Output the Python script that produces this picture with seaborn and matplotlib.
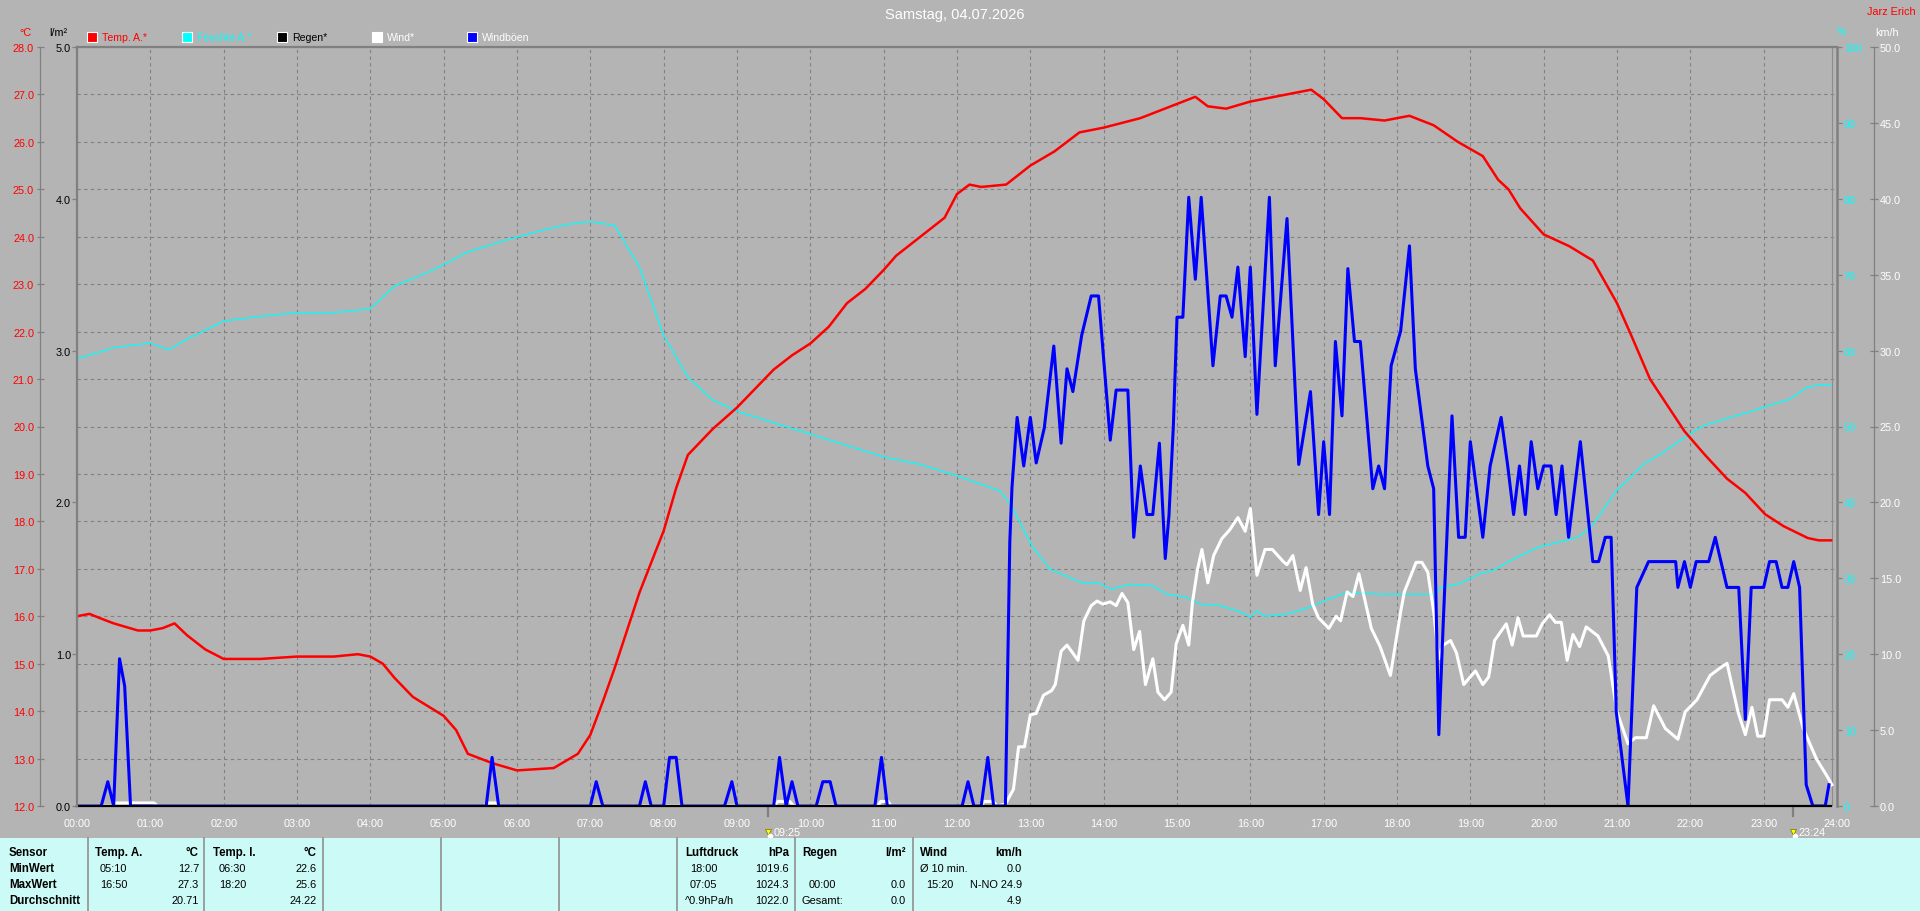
import numpy as np
import matplotlib
matplotlib.use("Agg")
import matplotlib.pyplot as plt
import matplotlib.transforms as mtransforms
from matplotlib.patches import Rectangle
from matplotlib.lines import Line2D
import seaborn as sns

# ---------------- data ----------------
TITLE = "Samstag, 04.07.2026"
STATION = "Jarz Erich"

TEMP_HOURS = [0.00, 0.17, 0.33, 0.50, 0.83, 1.00, 1.17, 1.33, 1.50, 1.75, 2.00, 2.50, 3.00, 3.50,
              3.83, 4.00, 4.17, 4.33, 4.58, 5.00, 5.17, 5.33, 5.67, 6.00, 6.50, 6.83, 7.00, 7.17,
              7.33, 7.67, 8.00, 8.17, 8.33, 8.67, 9.00, 9.25, 9.50, 9.75, 10.00, 10.25, 10.50,
              10.75, 11.00, 11.17, 11.50, 11.83, 12.00, 12.17, 12.33, 12.67, 13.00, 13.33, 13.67,
              14.00, 14.50, 15.00, 15.25, 15.42, 15.67, 16.00, 16.33, 16.83, 17.00, 17.25, 17.50,
              17.83, 18.17, 18.50, 18.83, 19.17, 19.38, 19.52, 19.68, 20.00, 20.35, 20.67, 21.00,
              21.20, 21.45, 21.92, 22.20, 22.50, 22.75, 23.02, 23.27, 23.60, 23.75, 23.92]
TEMP_C = [16.0, 16.05, 15.95, 15.85, 15.7, 15.7, 15.75, 15.85, 15.6, 15.3, 15.1, 15.1, 15.15, 15.15,
          15.2, 15.15, 15.0, 14.7, 14.3, 13.9, 13.6, 13.1, 12.9, 12.75, 12.8, 13.1, 13.5, 14.2,
          14.9, 16.5, 17.8, 18.7, 19.4, 19.95, 20.4, 20.8, 21.2, 21.5, 21.75, 22.1, 22.6,
          22.9, 23.3, 23.6, 24.0, 24.4, 24.9, 25.1, 25.05, 25.1, 25.5, 25.8, 26.2,
          26.3, 26.5, 26.8, 26.95, 26.75, 26.7, 26.85, 26.95, 27.1, 26.9, 26.5, 26.5,
          26.45, 26.55, 26.35, 26.0, 25.7, 25.2, 25.0, 24.6, 24.05, 23.8, 23.5, 22.6,
          21.9, 21.0, 19.9, 19.4, 18.9, 18.6, 18.15, 17.9, 17.65, 17.6, 17.6]

HUM_HOURS = [0.00, 0.50, 1.00, 1.25, 1.50, 2.00, 2.50, 3.00, 3.50, 4.00, 4.33, 4.83, 5.33, 5.83,
             6.33, 6.67, 7.00, 7.33, 7.67, 8.00, 8.33, 8.67, 9.00, 9.50, 10.00, 10.50, 11.00,
             11.50, 12.00, 12.59, 12.75, 13.02, 13.27, 13.68, 13.95, 14.11, 14.36, 14.67, 14.86,
             15.13, 15.31, 15.59, 15.86, 16.00, 16.09, 16.20, 16.50, 16.75, 17.00, 17.33, 17.77,
             18.50, 18.60, 18.85, 19.13, 19.30, 19.58, 19.92, 20.22, 20.47, 20.66, 20.98, 21.37,
             21.60, 21.93, 22.17, 22.47, 22.80, 23.04, 23.36, 23.60, 23.77, 23.92]
HUM_PCT = [58.9, 60.4, 61.0, 60.1, 61.5, 63.9, 64.5, 65.0, 65.0, 65.5, 68.5, 70.5, 73.0, 74.5,
           75.8, 76.6, 77.0, 76.5, 71.0, 62.0, 56.5, 53.5, 52.0, 50.5, 49.0, 47.5, 46.0,
           45.0, 43.5, 41.5, 39.4, 34.3, 31.2, 29.5, 29.3, 28.6, 29.2, 29.0, 27.9,
           27.5, 26.6, 26.4, 25.6, 24.9, 25.7, 25.0, 25.3, 26.0, 27.0, 28.2, 27.9,
           27.9, 28.8, 29.3, 30.6, 31.0, 32.5, 34.1, 34.8, 35.4, 36.9, 41.4, 45.1,
           46.4, 48.6, 50.1, 51.0, 51.9, 52.7, 53.6, 55.2, 55.5, 55.4]

RAIN_HOURS = [0.00, 23.92]
RAIN_MM = [0.0, 0.0]

WIND_HOURS = [0.00, 0.48, 0.52, 1.05, 1.10, 5.55, 5.60, 5.72, 5.77, 9.50, 9.56, 9.72, 9.77, 10.92,
              10.96, 11.06, 11.10, 12.33, 12.37, 12.49, 12.55, 12.66, 12.77, 12.84, 12.92, 13.00,
              13.08, 13.18, 13.29, 13.34, 13.42, 13.50, 13.65, 13.73, 13.83, 13.91, 13.99, 14.09,
              14.17, 14.25, 14.33, 14.41, 14.49, 14.57, 14.67, 14.74, 14.83, 14.92, 14.99, 15.08,
              15.16, 15.21, 15.28, 15.34, 15.42, 15.50, 15.61, 15.72, 15.83, 15.93, 16.00, 16.09,
              16.20, 16.30, 16.45, 16.50, 16.58, 16.68, 16.76, 16.85, 16.93, 17.07, 17.17, 17.23,
              17.32, 17.40, 17.48, 17.65, 17.77, 17.91, 18.05, 18.10, 18.26, 18.34, 18.42, 18.50,
              18.57, 18.63, 18.73, 18.81, 18.91, 19.07, 19.17, 19.25, 19.33, 19.49, 19.57, 19.65,
              19.72, 19.90, 19.98, 20.08, 20.16, 20.24, 20.32, 20.40, 20.49, 20.58, 20.74, 20.88,
              21.00, 21.15, 21.25, 21.40, 21.50, 21.66, 21.83, 21.93, 22.09, 22.27, 22.38, 22.50,
              22.65, 22.75, 22.84, 22.92, 23.00, 23.08, 23.25, 23.33, 23.41, 23.54, 23.72, 23.86,
              23.93]
WIND_KMH = [0, 0, 0.2, 0.2, 0, 0, 0.2, 0.2, 0, 0, 0.3, 0.3, 0, 0,
            0.3, 0.3, 0, 0, 0.3, 0.3, 0, 0.13, 1.1, 3.9, 3.9, 6.0,
            6.1, 7.3, 7.6, 8.0, 10.2, 10.6, 9.6, 12.2, 13.2, 13.5, 13.3, 13.45,
            13.2, 14.0, 13.4, 10.3, 11.5, 8.0, 9.7, 7.5, 7.0, 7.5, 10.7, 11.9,
            10.6, 13.4, 15.6, 16.9, 14.7, 16.5, 17.6, 18.2, 19.0, 18.1, 19.6, 15.2,
            16.9, 16.9, 16.1, 15.9, 16.5, 14.2, 15.7, 13.3, 12.4, 11.7, 12.5, 12.2,
            14.1, 13.8, 15.3, 11.7, 10.5, 8.6, 12.8, 14.1, 16.05, 16.05, 15.4, 12.8,
            9.7, 10.6, 10.9, 10.1, 8.0, 8.9, 8.0, 8.5, 10.9, 12.0, 10.6, 12.4,
            11.2, 11.2, 12.0, 12.6, 12.1, 12.1, 9.6, 11.3, 10.5, 11.8, 11.2, 9.9,
            6.2, 4.1, 4.5, 4.5, 6.6, 5.1, 4.4, 6.2, 7.0, 8.6, 9.0, 9.4,
            6.2, 4.7, 6.5, 4.6, 4.6, 7.0, 7.0, 6.5, 7.4, 5.1, 3.1, 2.0,
            1.4]

GUST_HOURS = [0.00, 0.33, 0.42, 0.50, 0.58, 0.65, 0.73, 5.58, 5.66, 5.75, 7.00, 7.08, 7.17, 7.67,
              7.75, 7.83, 8.00, 8.08, 8.17, 8.25, 8.83, 8.93, 9.00, 9.50, 9.58, 9.67, 9.75, 9.83,
              10.08, 10.17, 10.27, 10.35, 10.88, 10.97, 11.05, 12.07, 12.15, 12.23, 12.33, 12.42,
              12.50, 12.66, 12.72, 12.75, 12.79, 12.82, 12.91, 13.00, 13.08, 13.19, 13.32, 13.42,
              13.50, 13.58, 13.70, 13.83, 13.93, 14.09, 14.17, 14.33, 14.41, 14.50, 14.59, 14.67,
              14.76, 14.84, 14.89, 14.95, 15.00, 15.08, 15.16, 15.25, 15.33, 15.49, 15.59, 15.67,
              15.75, 15.83, 15.93, 16.00, 16.09, 16.26, 16.34, 16.50, 16.66, 16.82, 16.93, 17.00,
              17.08, 17.16, 17.25, 17.33, 17.42, 17.50, 17.67, 17.75, 17.83, 17.92, 18.05, 18.17,
              18.25, 18.33, 18.42, 18.50, 18.57, 18.63, 18.75, 18.84, 18.93, 19.00, 19.17, 19.27,
              19.42, 19.51, 19.59, 19.67, 19.75, 19.83, 19.92, 20.00, 20.10, 20.17, 20.25, 20.34,
              20.50, 20.67, 20.75, 20.84, 20.92, 20.99, 21.15, 21.27, 21.43, 21.80, 21.83, 21.92,
              22.00, 22.08, 22.25, 22.34, 22.50, 22.66, 22.75, 22.83, 23.00, 23.08, 23.17, 23.25,
              23.33, 23.41, 23.49, 23.58, 23.67, 23.84, 23.89]
GUST_KMH = [0, 0, 1.6, 0, 9.7, 7.9, 0, 0, 3.2, 0, 0, 1.6, 0, 0,
            1.6, 0, 0, 3.2, 3.2, 0, 0, 1.6, 0, 0, 3.2, 0, 1.6, 0,
            0, 1.6, 1.6, 0, 0, 3.2, 0, 0, 1.6, 0, 0, 3.2,
            0, 0, 17.4, 21.0, 23.7, 25.6, 22.4, 25.6, 22.6, 24.9, 30.3, 23.9,
            28.8, 27.3, 31.0, 33.6, 33.6, 24.1, 27.4, 27.4, 17.7, 22.4, 19.2, 19.2,
            23.9, 16.3, 19.1, 25.0, 32.2, 32.2, 40.1, 34.7, 40.1, 29.0, 33.6, 33.6,
            32.2, 35.5, 29.6, 35.5, 25.8, 40.1, 29.0, 38.7, 22.5, 27.3, 19.2, 24.0,
            19.2, 30.6, 25.7, 35.4, 30.6, 30.6, 20.9, 22.4, 20.9, 29.0, 31.3, 36.9,
            28.8, 25.8, 22.4, 20.9, 4.7, 12.0, 25.7, 17.7, 17.7, 24.0, 17.7, 22.4,
            25.6, 22.4, 19.2, 22.4, 19.2, 24.0, 20.9, 22.4, 22.4, 19.2, 22.4, 17.7,
            24.0, 16.1, 16.1, 17.7, 17.7, 6.2, 0, 14.4, 16.1, 16.1, 14.4, 16.1,
            14.4, 16.1, 16.1, 17.7, 14.4, 14.4, 5.7, 14.4, 14.4, 16.1, 16.1, 14.4,
            14.4, 16.1, 14.4, 1.4, 0, 0, 1.4]

MOON_TIMES = ["09:25", "23:24"]
DATA_END_HOUR = 23.93

X_TICK_HOURS = list(range(0, 25))
X_TICK_LABELS = [f"{h:02d}:00" for h in X_TICK_HOURS]
TEMP_TICKS = list(range(12, 29))
RAIN_TICKS = [0, 1, 2, 3, 4, 5]
HUM_TICKS = list(range(0, 101, 10))
WIND_TICKS = list(range(0, 51, 5))

LEGEND_LABELS = ["Temp. A.*", "Feuchte A.*", "Regen*", "Wind*", "Windböen"]
LEGEND_COLORS = ["#ff0000", "#00ffff", "#000000", "#ffffff", "#0000ff"]
LEGEND_TEXT_COLORS = ["#ff0000", "#00ffff", "#000000", "#ffffff", "#ffffff"]

TABLE_ROW_LABELS = ["Sensor", "MinWert", "MaxWert", "Durchschnitt"]
TABLE_COLUMNS = [
    ("Temp. A.", "°C", [("05:10", "12.7"), ("16:50", "27.3"), ("", "20.71")]),
    ("Temp. I.", "°C", [("06:30", "22.6"), ("18:20", "25.6"), ("", "24.22")]),
    ("Luftdruck", "hPa", [("18:00", "1019.6"), ("07:05", "1024.3"), ("^0.9hPa/h", "1022.0")]),
    ("Regen", "l/m²", [("", ""), ("00:00", "0.0"), ("Gesamt:", "0.0")]),
    ("Wind", "km/h", [("Ø 10 min.", "0.0"), ("15:20", "N-NO 24.9"), ("", "4.9")]),
]

# ---------------- styling / layout ----------------
plt.rcParams["font.family"] = ["Liberation Sans", "DejaVu Sans"]
W, H = 1920, 912
BG = "#b4b4b4"
GRID = "#808080"
PANEL = "#ccfaf6"


def fx(x):
    return x / W


def fy(y):
    return 1 - y / H


def px2pt(p):
    return p * 0.72


fig = plt.figure(figsize=(W / 100, H / 100), dpi=100, facecolor=BG)
L, T, R, B = 77, 48, 1837, 807
ax = fig.add_axes([fx(L), fy(B), (R - L) / W, (B - T) / H])
ax.set_facecolor(BG)

ax_h = ax.twinx()
ax_tl = ax.twinx()
ax_w = ax.twinx()
ax_r = ax.twinx()
for a in (ax, ax_h, ax_tl, ax_w, ax_r):
    for s in a.spines.values():
        s.set_visible(False)

# grid + temperature axis
ax.grid(True, color=GRID, linestyle=(0, (3, 3)), linewidth=0.8)
ax.set_axisbelow(True)
ax.spines["top"].set_visible(True)
ax.spines["top"].set_color(GRID)
ax.spines["top"].set_linewidth(1.6)
ax.spines["left"].set_visible(True)
ax.spines["left"].set_position(("outward", px2pt(37)))
ax.spines["left"].set_color(GRID)
ax.spines["left"].set_linewidth(0.9)

# humidity (cyan)
sns.lineplot(x=HUM_HOURS, y=HUM_PCT, ax=ax_h, color="#00ffff", linewidth=0.9,
             estimator=None, sort=False, legend=False)
# temperature (red)
sns.lineplot(x=TEMP_HOURS, y=TEMP_C, ax=ax_tl, color="#ff0000", linewidth=1.8,
             estimator=None, sort=False, legend=False)
# wind (white) + gusts (blue)
sns.lineplot(x=WIND_HOURS, y=WIND_KMH, ax=ax_w, color="#ffffff", linewidth=2.2,
             estimator=None, sort=False, legend=False)
sns.lineplot(x=GUST_HOURS, y=GUST_KMH, ax=ax_w, color="#0000ff", linewidth=2.2,
             estimator=None, sort=False, legend=False)
# rain (black)
sns.lineplot(x=RAIN_HOURS, y=RAIN_MM, ax=ax_r, color="#000000", linewidth=1.6,
             estimator=None, sort=False, legend=False)
for ln in ax_r.lines:
    ln.set_clip_on(False)

for a in (ax, ax_h, ax_tl, ax_w, ax_r):
    a.set_xlabel("")
    a.set_ylabel("")

ax.set_xlim(0, 24)
ax.set_ylim(12, 28)
ax_tl.set_ylim(12, 28)
ax_h.set_ylim(0, 100)
ax_w.set_ylim(0, 50)
ax_r.set_ylim(0, 5)

# last-data marker line
ax.axvline(DATA_END_HOUR, color="#8c8c8c", linewidth=0.8)

# x ticks
ax.set_xticks(X_TICK_HOURS)
ax.set_xticklabels(X_TICK_LABELS)
ax.tick_params(axis="x", length=0, pad=9, labelcolor="white", labelsize=7.8)

# temperature ticks (left, outer)
ax.set_yticks(TEMP_TICKS)
ax.set_yticklabels([f"{v:.1f}" for v in TEMP_TICKS])
ax.tick_params(axis="y", left=True, right=False, labelleft=True, labelright=False,
               direction="inout", length=px2pt(7), width=0.9, color=GRID,
               pad=px2pt(2.5), labelcolor="#ff0000", labelsize=7.8)

# rain ticks (left, inner)
ax_tl.set_yticks([])
ax_r.set_yticks(RAIN_TICKS)
ax_r.set_yticklabels([f"{v:.1f}" for v in RAIN_TICKS])
ax_r.spines["left"].set_visible(True)
ax_r.spines["left"].set_color(GRID)
ax_r.spines["left"].set_linewidth(1.6)
ax_r.tick_params(axis="y", left=True, right=False, labelleft=True, labelright=False,
                 direction="out", length=px2pt(5), width=0.9, color=GRID,
                 pad=px2pt(1), labelcolor="#000000", labelsize=7.8)

# humidity ticks (right, inner)
ax_h.set_yticks(HUM_TICKS)
ax_h.set_yticklabels([f"{v:d}" for v in HUM_TICKS])
ax_h.spines["right"].set_visible(True)
ax_h.spines["right"].set_color(GRID)
ax_h.spines["right"].set_linewidth(1.8)
ax_h.tick_params(axis="y", right=True, left=False, labelright=True, labelleft=False,
                 direction="out", length=px2pt(5), width=0.9, color=GRID,
                 pad=px2pt(2), labelcolor="#00ffff", labelsize=7.8)

# wind ticks (right, outer)
ax_w.set_yticks(WIND_TICKS)
ax_w.set_yticklabels([f"{v:.1f}" for v in WIND_TICKS])
ax_w.spines["right"].set_visible(True)
ax_w.spines["right"].set_position(("outward", px2pt(37)))
ax_w.spines["right"].set_color(GRID)
ax_w.spines["right"].set_linewidth(0.9)
ax_w.tick_params(axis="y", right=True, left=False, labelright=True, labelleft=False,
                 direction="inout", length=px2pt(8), width=0.9, color=GRID,
                 pad=px2pt(2), labelcolor="#ffffff", labelsize=7.8)

# moon rise / set markers below the axis
blend = mtransforms.blended_transform_factory(ax.transData, ax.transAxes)
for tstr in MOON_TIMES:
    hh, mm = tstr.split(":")
    th = int(hh) + int(mm) / 60
    ax.add_line(Line2D([th, th], [0, -10 / 759], transform=blend, color="#808080",
                       linewidth=1.6, clip_on=False))
    ax.plot([th], [-26 / 759], transform=blend, marker="v", markersize=5,
            color="#ffff00", markeredgecolor="#707000", markeredgewidth=0.5, clip_on=False)
    ax.plot([th + 0.03], [-30 / 759], transform=blend, marker="o", markersize=3,
            color="white", clip_on=False)
    tr = mtransforms.offset_copy(blend, fig=fig, x=6, y=0, units="dots")
    ax.text(th, -26 / 759, tstr, transform=tr, color="white", fontsize=7.8,
            ha="left", va="center", clip_on=False)

# ---------------- header texts ----------------
fig.text(fx(955), fy(15), TITLE, color="white", fontsize=10.5, ha="center", va="center")
fig.text(fx(1916), fy(12), STATION, color="#ff0000", fontsize=7.8, ha="right", va="center")
fig.text(fx(25), fy(33), "°C", color="#ff0000", fontsize=7.8, ha="center", va="center")
fig.text(fx(58), fy(33), "l/m²", color="#000000", fontsize=7.8, ha="center", va="center")
fig.text(fx(1841), fy(32), "%", color="#00ffff", fontsize=7.8, ha="center", va="center")
fig.text(fx(1887), fy(33), "km/h", color="#ffffff", fontsize=7.8, ha="center", va="center")

LEG_SQ_X = [87, 182, 277, 372, 467]
for x0, lab, col, tcol in zip(LEG_SQ_X, LEGEND_LABELS, LEGEND_COLORS, LEGEND_TEXT_COLORS):
    fig.add_artist(Rectangle((fx(x0), fy(43)), 10 / W, 10 / H, transform=fig.transFigure,
                             facecolor=col, edgecolor="white", linewidth=0.8))
    fig.text(fx(x0 + 15), fy(38), lab, color=tcol, fontsize=7.6, ha="left", va="center")

# ---------------- bottom table ----------------
fig.add_artist(Rectangle((0, 0), 1, (H - 839) / H, transform=fig.transFigure,
                         facecolor=PANEL, edgecolor="none"))
for xs in [88, 204, 323, 441, 559, 677, 795, 913]:
    fig.add_artist(Line2D([fx(xs), fx(xs)], [fy(839), 0], transform=fig.transFigure,
                          color="#909090", linewidth=1.2))

ROW_Y = [853, 869, 885, 901]
for lab, yy in zip(TABLE_ROW_LABELS, ROW_Y):
    fig.text(fx(9), fy(yy), lab, fontsize=8.3, fontweight="bold", ha="left", va="center",
             color="black")

COL_POS = [(95, 100, 199), (213, 219, 317), (685, 690, 789), (802, 809, 906), (920, 926, 1022)]
for (head, unit, rows), (xl, xt, xr) in zip(TABLE_COLUMNS, COL_POS):
    fig.text(fx(xl), fy(ROW_Y[0]), head, fontsize=8.3, fontweight="bold", ha="left",
             va="center", color="black")
    fig.text(fx(xr), fy(ROW_Y[0]), unit, fontsize=8.3, fontweight="bold", ha="right",
             va="center", color="black")
    for (left, right), yy in zip(rows, ROW_Y[1:]):
        if left:
            xpos = xl if (left.startswith("^") or left.startswith("Ø") or left.startswith("G")) else xt
            fig.text(fx(xpos), fy(yy), left, fontsize=7.9, ha="left", va="center", color="black")
        if right:
            fig.text(fx(xr), fy(yy), right, fontsize=7.9, ha="right", va="center", color="black")

fig.savefig("out.png", dpi=100, facecolor=BG)
